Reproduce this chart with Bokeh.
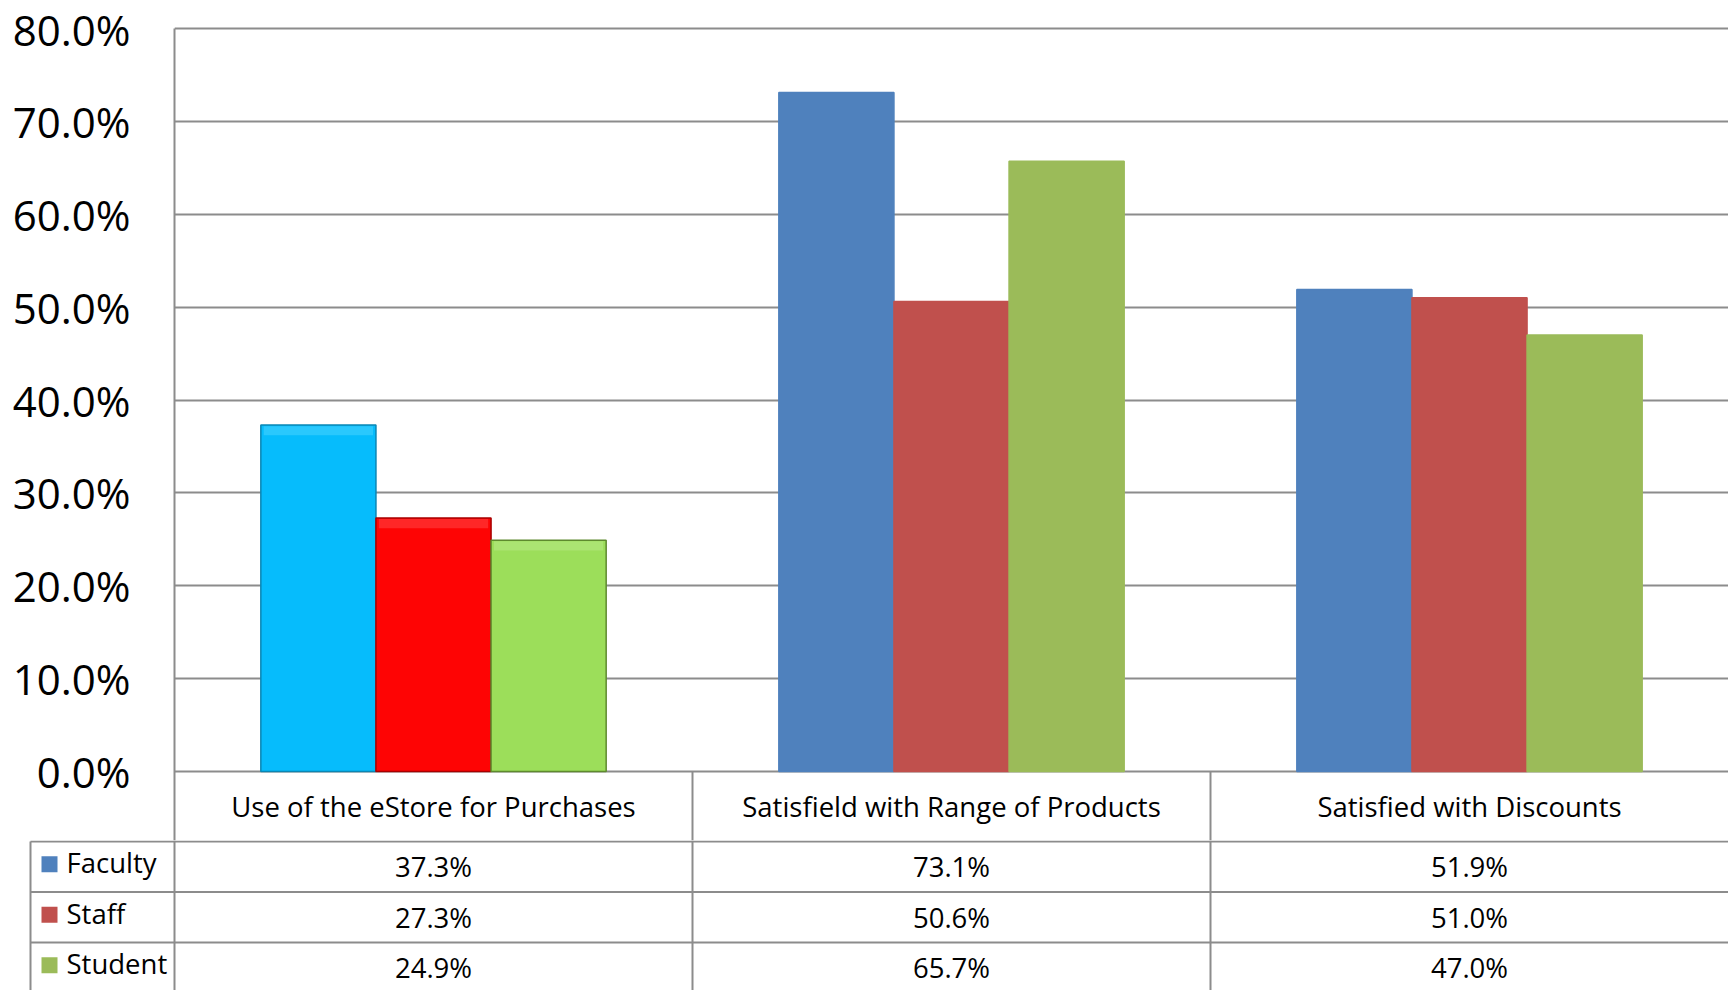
from bokeh.plotting import figure
from bokeh.layouts import column
from bokeh.models import ColumnDataSource, FactorRange, Range1d, PrintfTickFormatter, FixedTicker
from bokeh.transform import dodge
from bokeh.core.properties import value
from bokeh.embed import file_html
from bokeh.resources import INLINE

# ---------------- data ----------------
categories = ["Use of the eStore for Purchases",
              "Satisfield with Range of Products",
              "Satisfied with Discounts"]
series = ["Faculty", "Staff", "Student"]
faculty = [37.3, 73.1, 51.9]
staff = [27.3, 50.6, 51.0]
student = [24.9, 65.7, 47.0]
y_ticks = [0, 10, 20, 30, 40, 50, 60, 70, 80]

# ---------------- style ----------------
series_colors = ["#4F81BD", "#C0504D", "#9BBB59"]
highlight_fill = ["#06BCFC", "#FE0404", "#9CDE5A"]
highlight_top = ["#4ED3FD", "#FF4A4A", "#B9EA8A"]
highlight_edge = ["#0A86B4", "#A80000", "#5E8A2E"]
GRID = "#8c8c8c"
FONT = "Open Sans"

W = 1728
TOP_H = 840
TAB_H = 150
AXIS_X = 174          # frame left of chart (px)
PLOT_TOP = 28         # px of the top (80%) gridline
ZERO_Y = 771          # px of the 0% line
HDR_BOTTOM = 841      # px of the header-row bottom line
HDR_MID = 806         # px of header text centre
Y_MAX = 80
CW = (W - AXIS_X) / 3.0   # px per category
BW = 1 / 4.5              # bar width (gap width 150%)

k = (ZERO_Y - PLOT_TOP) / Y_MAX
y_end = Y_MAX + PLOT_TOP / k
y_start = -(TOP_H - ZERO_Y) / k
hdr_y = -(HDR_MID - ZERO_Y) / k

p = figure(width=W, height=TOP_H, x_range=FactorRange(*categories, range_padding=0),
           y_range=Range1d(y_start, y_end), output_backend="svg", toolbar_location=None,
           min_border_left=AXIS_X, min_border_right=0, min_border_top=0, min_border_bottom=0,
           x_axis_location=None, frame_align=False)
p.outline_line_color = None
p.background_fill_color = "white"
p.xgrid.grid_line_color = None
p.ygrid.ticker = FixedTicker(ticks=y_ticks)
p.ygrid.grid_line_color = GRID
p.ygrid.grid_line_width = 2

ax = p.yaxis[0]
ax.ticker = FixedTicker(ticks=y_ticks)
ax.formatter = PrintfTickFormatter(format="%.1f%%")
ax.bounds = (y_start, Y_MAX)
ax.axis_line_color = GRID
ax.axis_line_width = 2
ax.major_tick_in = 0
ax.major_tick_out = 0
ax.minor_tick_in = 0
ax.minor_tick_out = 0
ax.major_label_standoff = 44
ax.major_label_text_font = FONT
ax.major_label_text_font_size = "42px"
ax.major_label_text_line_height = 1.0
ax.major_label_text_color = "black"

all_values = [faculty, staff, student]
offsets = [-BW, 0.0, BW]
for i, (name, vals) in enumerate(zip(series, all_values)):
    fills = [highlight_fill[i]] + [series_colors[i]] * (len(categories) - 1)
    edges = [highlight_edge[i]] + [series_colors[i]] * (len(categories) - 1)
    src = ColumnDataSource(dict(x=categories, top=vals, fill=fills, edge=edges))
    p.vbar(x=dodge("x", offsets[i], range=p.x_range), top="top", bottom=0, width=BW,
           fill_color="fill", line_color="edge", line_width=1.5, source=src)
    # bevel highlight on the first (emphasised) group
    hsrc = ColumnDataSource(dict(x=categories[:1], top=[v - 0.12 for v in vals[:1]],
                                 bot=[v - 1.1 for v in vals[:1]]))
    p.vbar(x=dodge("x", offsets[i], range=p.x_range), top="top", bottom="bot",
           width=BW * 0.95, fill_color=highlight_top[i], fill_alpha=0.5, line_color=None,
           source=hsrc)

# header row (category names) below the 0% line
p.text(x=categories, y=[hdr_y] * len(categories), text=categories, text_align="center",
       text_baseline="middle", text_font=value(FONT), text_font_size=value("27.5px"),
       text_color="black")
bsrc = ColumnDataSource(dict(x=categories[1:]))
p.segment(x0=dodge("x", -0.5, range=p.x_range), y0=0, x1=dodge("x", -0.5, range=p.x_range),
          y1=y_start, line_color=GRID, line_width=2, source=bsrc)

# ---------------- table ----------------
RH = 50.5
top_off = HDR_BOTTOM - TOP_H
t_top = -top_off / RH
t_bot = (TAB_H - top_off) / RH
TAB_LEFT = 28
x_start = (TAB_LEFT - AXIS_X) / CW
leg_left = (30 - AXIS_X) / CW
sq_x = (49 - AXIS_X) / CW
lab_x = (66 - AXIS_X) / CW

t = figure(width=W, height=TAB_H, x_range=Range1d(x_start, 3), y_range=Range1d(t_bot, t_top),
           output_backend="svg", toolbar_location=None, min_border_left=TAB_LEFT,
           min_border_right=0, min_border_top=0, min_border_bottom=0,
           x_axis_location=None, y_axis_location=None, frame_align=False)
t.outline_line_color = None
t.grid.visible = False

n = len(categories)
nrows = len(series)
hy = list(range(nrows))
t.segment(x0=[leg_left] * nrows, y0=hy, x1=[n] * nrows, y1=hy, line_color=GRID, line_width=2)
vx = [leg_left] + list(range(n))
t.segment(x0=vx, y0=[0] + [t_top] * n, x1=vx, y1=[t_bot] * len(vx), line_color=GRID,
          line_width=2)

tf = value(FONT)
vx_, vy_, vt_ = [], [], []
for r, vals in enumerate(all_values):
    for c, v in enumerate(vals):
        vx_.append(c + 0.5); vy_.append(r + 0.5); vt_.append(f"{v:.1f}%")
t.text(x=vx_, y=vy_, text=vt_, text_align="center", text_baseline="middle", text_font=tf,
       text_font_size=value("27.5px"), text_color="black")

t.scatter(x=[sq_x] * nrows, y=[r + 0.45 for r in range(nrows)], marker="square", size=16,
          fill_color=series_colors, line_color=None)
t.text(x=[lab_x] * nrows, y=[r + 0.42 for r in range(nrows)], text=series, text_align="left",
       text_baseline="middle", text_font=tf, text_font_size=value("27.5px"), text_color="black")

layout = column(p, t, spacing=0)
open("out.html", "w").write(file_html(layout, INLINE))
